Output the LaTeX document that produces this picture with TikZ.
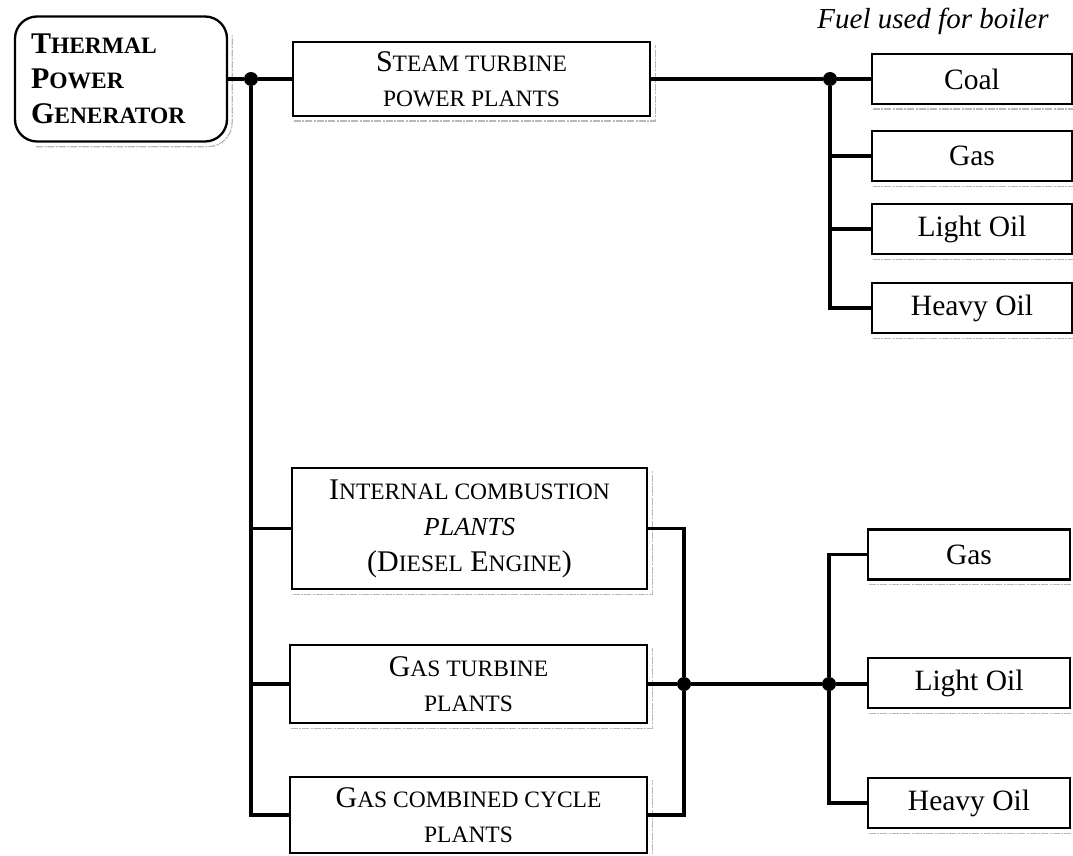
\documentclass[tikz,border=0pt]{standalone}
\usepackage{fontspec}
\setmainfont{Liberation Serif}
\newcommand\smc{\fontsize{23.5}{35}\selectfont}
\newcommand\bigc{\fontsize{30}{35}\selectfont}
\begin{document}
\begin{tikzpicture}[x=1pt,y=-1pt,
  box/.style={draw, line width=2.3pt, inner sep=0pt, align=center,
              font=\bigc},
  fuel/.style={box, minimum height=50pt, font=\fontsize{29.5}{34}\selectfont},
  link/.style={line width=3.1pt},
  dot/.style={circle, fill, inner sep=0pt, minimum size=14pt},
  shadeline/.style={gray!55, line width=1.3pt, dash pattern=on 7pt off 1.5pt on 2pt off 1pt}]
\useasboundingbox (0,0) rectangle (1073,856);

% main generator box
\node[box, rounded corners=22pt, minimum width=212pt, minimum height=125pt,
      align=left, text width=180pt, font=\bfseries\bigc] (gen) at (121,79)
  {T{\smc HERMAL}\\P{\smc OWER}\\G{\smc ENERATOR}};

% plant types
\node[box, minimum width=357pt, minimum height=74pt] (steam) at (471.5,79)
  {S{\smc TEAM TURBINE}\\{\smc POWER PLANTS}};
\node[box, minimum width=355pt, minimum height=121pt, font=\fontsize{30}{36}\selectfont] (ic) at (469.5,528.5)
  {I{\smc NTERNAL COMBUSTION}\\{\itshape\fontsize{26}{36}\selectfont PLANTS}\\(D{\smc IESEL} E{\smc NGINE})};
\node[box, minimum width=357pt, minimum height=78pt] (gt) at (468.5,684)
  {G{\smc AS TURBINE}\\{\smc PLANTS}};
\node[box, minimum width=357pt, minimum height=76pt] (gcc) at (468.5,815)
  {G{\smc AS COMBINED CYCLE}\\{\smc PLANTS}};

% boiler fuels
\node[font=\itshape\fontsize{29}{34}\selectfont, anchor=base] (fueltitle) at (933,29)
  {Fuel used for boiler};
\node[fuel, minimum width=200pt] (coal) at (972,79) {Coal};
\node[fuel, minimum width=200pt] (gas1) at (972,156) {Gas};
\node[fuel, minimum width=200pt] (lo1) at (972,229) {Light Oil};
\node[fuel, minimum width=200pt] (ho1) at (972,308) {Heavy Oil};

% gas / liquid fuels
\node[fuel, minimum width=202pt] (gas2) at (969,554.5) {Gas};
\node[fuel, minimum width=202pt] (lo2) at (969,683) {Light Oil};
\node[fuel, minimum width=202pt] (ho2) at (969,803) {Heavy Oil};

% junctions
\node[dot] (j1) at (251,79) {};
\node[dot] (j2) at (830,79) {};
\node[dot] (j3) at (684,684) {};
\node[dot] (j4) at (829,684) {};

% scanned shadow under boxes
\foreach \n in {steam,ic,gt,gcc}{
  \draw[shadeline] ([xshift=2pt,yshift=-4pt]\n.south west) -- ([xshift=4pt,yshift=-4pt]\n.south east)
                   -- ([xshift=4pt,yshift=-4pt]\n.north east);
}
\foreach \n in {coal,gas1,lo1,ho1,gas2,lo2,ho2}{
  \draw[shadeline] ([xshift=2pt,yshift=-4pt]\n.south west) -- ([yshift=-4pt]\n.south east);
}
\draw[shadeline] ([xshift=22pt,yshift=-4pt]gen.south west) -- ([xshift=-20pt,yshift=-4pt]gen.south east)
  arc[start angle=-90, end angle=0, radius=24pt] -- ([xshift=4pt,yshift=-20pt]gen.north east);

% connectors
\draw[link] (gen.east) -- (j1) -- (steam.west);
\draw[link] (j1) |- (ic.west);
\draw[link] (j1) |- (gt.west);
\draw[link] (j1) |- (gcc.west);
\draw[link] (steam.east) -- (j2) -- (coal.west);
\draw[link] (j2) |- (gas1.west);
\draw[link] (j2) |- (lo1.west);
\draw[link] (j2) |- (ho1.west);
\draw[link] (ic.east) -| (j3);
\draw[link] (gcc.east) -| (j3);
\draw[link] (gt.east) -- (j3) -- (j4) -- (j4 -| lo2.west);
\draw[link] (j4) |- (gas2.west);
\draw[link] (j4) |- (ho2.west);
\end{tikzpicture}
\end{document}
